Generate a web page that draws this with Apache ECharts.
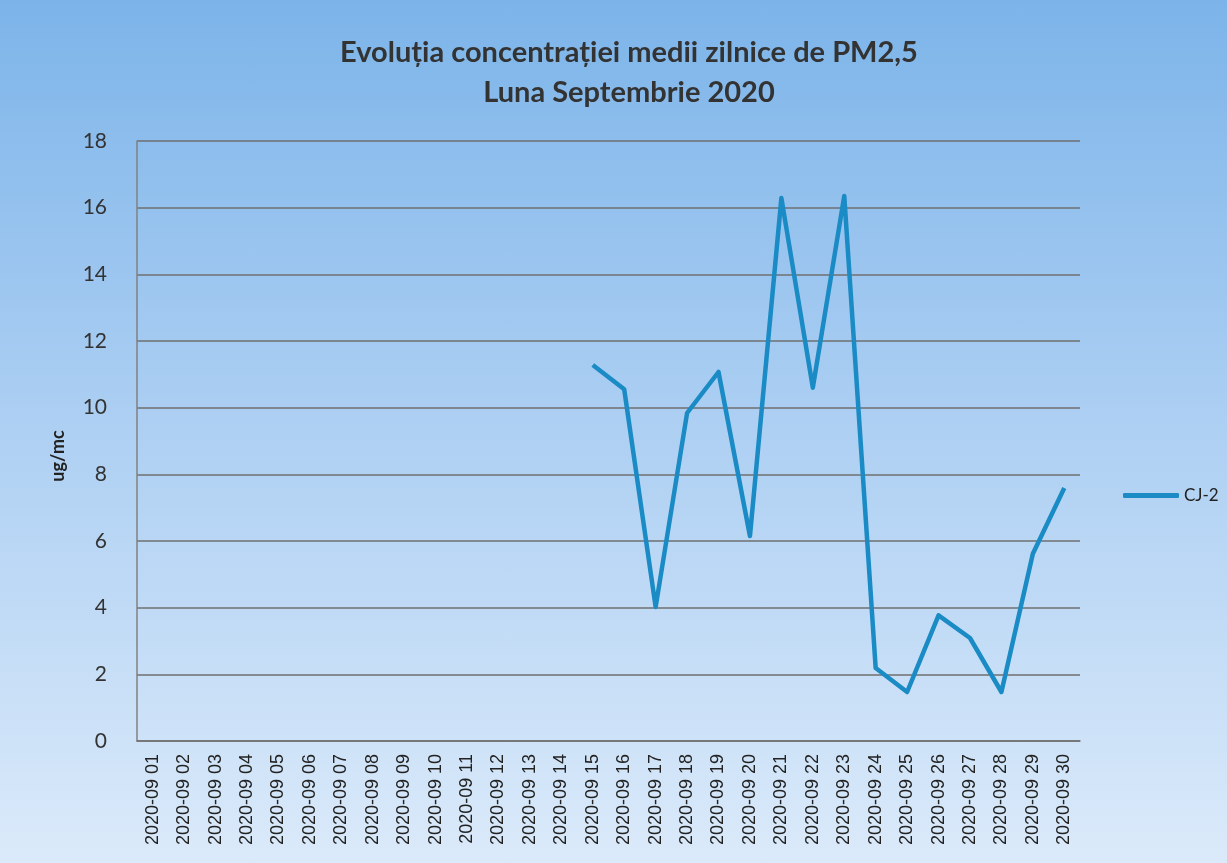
<!DOCTYPE html>
<html>
<head>
<meta charset="utf-8">
<script src="https://cdn.jsdelivr.net/npm/echarts@6/dist/echarts.min.js"></script>
<style>
  html, body { margin: 0; padding: 0; }
  #chart { width: 1227px; height: 863px; background: linear-gradient(to bottom, #7cb4e9 0%, #a9cdf2 45%, #dbeafa 100%); }
</style>
</head>
<body>
<div id="chart"></div>
<script>
// zile septembrie 2020
const days = []
for (let d = 1; d <= 30; d++) days.push('2020-09 ' + String(d).padStart(2, '0'))

// CJ-2, ug/mc (lipsa date 01-14)
const cj2 = [
  null, null, null, null, null, null, null, null, null, null, null, null, null, null,
  11.28, 10.55, 4.02, 9.84, 11.07, 6.15, 16.29, 10.6, 16.35, 2.19, 1.47, 3.77, 3.09, 1.47, 5.62, 7.59
]

const yTicks = [0, 2, 4, 6, 8, 10, 12, 14, 16, 18]

const chart = echarts.init(document.getElementById('chart'))

chart.setOption({
  animation: false,
  title: {
    text: 'Evoluția concentrației medii zilnice de PM2,5\nLuna Septembrie 2020',
    left: 624,
    top: 28,
    textAlign: 'center',
    textStyle: {
      fontFamily: 'Lato',
      fontWeight: 'bold',
      fontSize: 29,
      lineHeight: 40,
      color: '#333'
    }
  },
  legend: {
    data: ['CJ-2'],
    left: 1118,
    top: 482,
    itemWidth: 56,
    itemHeight: 5,
    itemGap: 4,
    icon: 'roundRect',
    textStyle: { fontFamily: 'Lato', fontSize: 17, color: '#222' }
  },
  grid: {
    left: 137,
    right: 147,
    top: 141,
    bottom: 122
  },
  xAxis: {
    type: 'category',
    data: days,
    boundaryGap: true,
    axisLine: { lineStyle: { color: '#707070', width: 1.5 } },
    axisTick: { show: false },
    axisLabel: {
      rotate: 90,
      interval: 0,
      margin: 13,
      fontFamily: 'Liberation Sans',
      fontSize: 18,
      color: '#222'
    }
  },
  yAxis: {
    type: 'value',
    min: yTicks[0],
    max: yTicks[yTicks.length - 1],
    interval: 2,
    name: 'ug/mc',
    nameLocation: 'middle',
    nameGap: 70,
    nameRotate: 90,
    nameTextStyle: { fontFamily: 'Lato', fontWeight: 'bold', fontSize: 18, color: '#222', padding: [0, 30, 0, 0] },
    axisLine: { show: true, lineStyle: { color: '#808080', width: 1.5 } },
    axisTick: { show: false },
    axisLabel: { fontFamily: 'Lato', fontSize: 21, color: '#333', margin: 30 },
    splitLine: { lineStyle: { color: '#6f6f6f', width: 1.5 } }
  },
  series: [
    {
      name: 'CJ-2',
      type: 'line',
      data: cj2,
      connectNulls: false,
      symbol: 'none',
      lineStyle: { color: '#1a8bc4', width: 4.5, join: 'round' },
      itemStyle: { color: '#1a8bc4' }
    }
  ]
})
</script>
</body>
</html>
